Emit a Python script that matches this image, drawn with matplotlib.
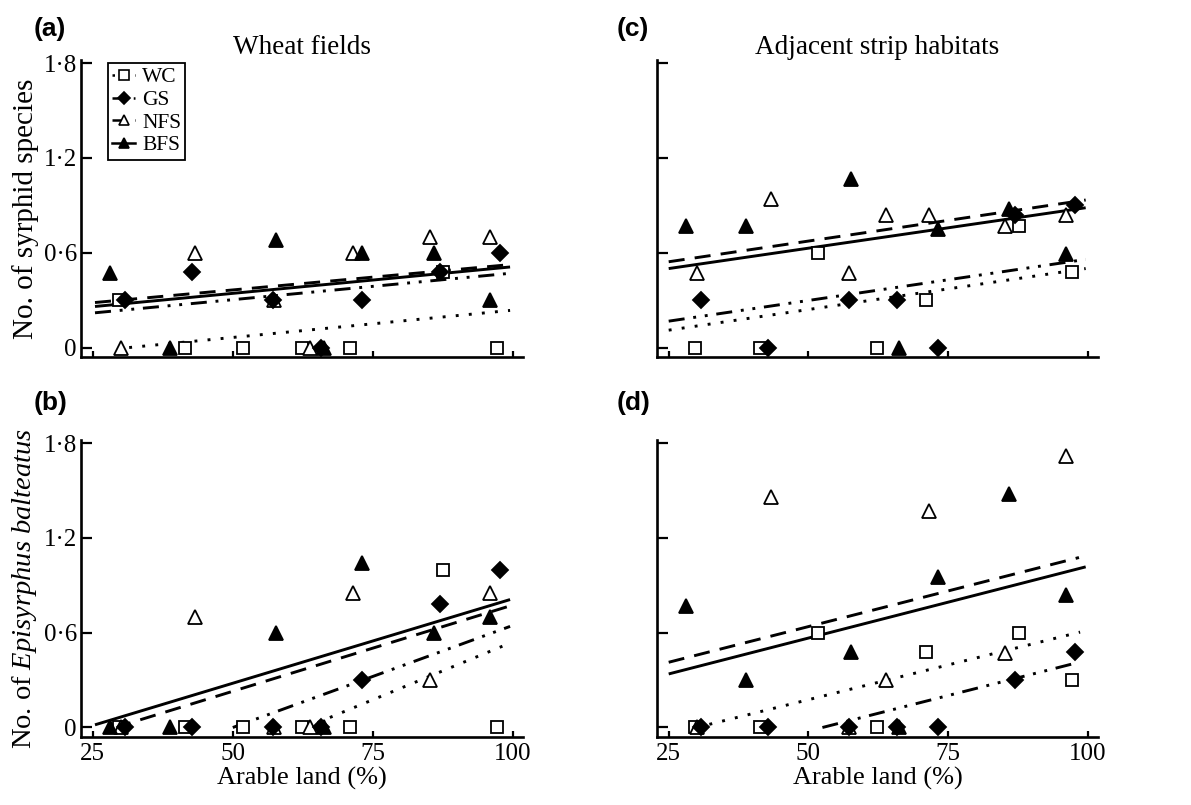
import matplotlib
matplotlib.use("Agg")
import matplotlib.pyplot as plt
from matplotlib.lines import Line2D

plt.rcParams["font.family"] = ["Liberation Serif", "DejaVu Serif"]
plt.rcParams["mathtext.fontset"] = "custom"
plt.rcParams["mathtext.rm"] = "Liberation Serif"
plt.rcParams["mathtext.it"] = "Liberation Serif:italic"

# arable land (%) around the sites of each habitat type
wc_x = [29.7, 41.4, 51.8, 62.3, 71.0, 87.6, 97.1]
gs_x = [30.8, 42.7, 57.2, 65.8, 73.1, 87.0, 97.7]
nfs_x = [30.1, 43.3, 57.3, 63.8, 71.5, 85.2, 96.0]
bfs_x = [28.1, 38.8, 57.7, 66.2, 73.1, 85.9, 96.0]

# (a) wheat fields, no. of syrphid species
a_wc = [0.3, 0, 0, 0, 0, 0.48, 0]
a_gs = [0.3, 0.48, 0.3, 0, 0.3, 0.48, 0.6]
a_nfs = [0, 0.6, 0.3, 0, 0.6, 0.7, 0.7]
a_bfs = [0.47, 0, 0.68, 0, 0.6, 0.6, 0.3]

# (b) wheat fields, no. of Episyrphus balteatus
b_wc = [0, 0, 0, 0, 0, 1.0, 0]
b_gs = [0, 0, 0, 0, 0.3, 0.78, 1.0]
b_nfs = [0, 0.7, 0, 0, 0.85, 0.3, 0.85]
b_bfs = [0, 0, 0.6, 0, 1.04, 0.6, 0.7]

# (c) adjacent strips, no. of syrphid species
c_wc = [0, 0, 0.6, 0, 0.3, 0.77, 0.48]
c_gs = [0.3, 0, 0.3, 0.3, 0, 0.84, 0.9]
c_nfs = [0.47, 0.94, 0.47, 0.84, 0.84, 0.77, 0.84]
c_bfs = [0.77, 0.77, 1.07, 0, 0.75, 0.88, 0.59]

# (d) adjacent strips, no. of Episyrphus balteatus
d_wc = [0, 0, 0.6, 0, 0.48, 0.6, 0.3]
d_gs = [0, 0, 0, 0, 0, 0.3, 0.48]
d_nfs = [0, 1.46, 0, 0.3, 1.37, 0.47, 1.72]
d_bfs = [0.77, 0.3, 0.48, 0, 0.95, 1.48, 0.84]

# fitted lines: (x start, y start, x end, y end)
a_fit = {"WC": (31.5, 0, 99.5, 0.235), "GS": (25.4, 0.22, 99.5, 0.47),
         "NFS": (25.4, 0.285, 99.5, 0.525), "BFS": (25.4, 0.26, 99.5, 0.51)}
b_fit = {"WC": (63.0, 0, 98.5, 0.52), "GS": (50.0, 0, 99.5, 0.64),
         "NFS": (29.0, 0, 99.5, 0.77), "BFS": (25.4, 0.017, 99.5, 0.81)}
c_fit = {"WC": (25.0, 0.11, 99.6, 0.5), "GS": (25.0, 0.167, 99.6, 0.558),
         "NFS": (25.0, 0.543, 99.6, 0.934), "BFS": (25.0, 0.5, 99.6, 0.885)}
d_fit = {"WC": (30.0, 0, 98.6, 0.604), "GS": (52.5, 0, 98.4, 0.413),
         "NFS": (25.0, 0.413, 98.4, 1.076), "BFS": (25.0, 0.339, 99.6, 1.017)}

habitats = ["WC", "GS", "NFS", "BFS"]
site_x = {"WC": wc_x, "GS": gs_x, "NFS": nfs_x, "BFS": bfs_x}

styles = {
    "WC": dict(marker="s", ms=9, mfc="white", ls=(0, (1, 3.5))),
    "GS": dict(marker="D", ms=8.5, mfc="black", ls=(0, (5.5, 3, 1, 3, 1, 3))),
    "NFS": dict(marker="^", ms=10.5, mfc="white", ls=(0, (5.5, 3.5))),
    "BFS": dict(marker="^", ms=10.5, mfc="black", ls="-"),
}

panels = [
    ("(a)", [0.0680, 0.5565, 0.3711, 0.3689], [a_wc, a_gs, a_nfs, a_bfs], a_fit),
    ("(b)", [0.0680, 0.0845, 0.3711, 0.3689], [b_wc, b_gs, b_nfs, b_bfs], b_fit),
    ("(c)", [0.5516, 0.5565, 0.3703, 0.3689], [c_wc, c_gs, c_nfs, c_bfs], c_fit),
    ("(d)", [0.5516, 0.0845, 0.3703, 0.3689], [d_wc, d_gs, d_nfs, d_bfs], d_fit),
]

fig = plt.figure(figsize=(11.91, 8.05), dpi=100)
axes = {}
for tag, rect, values, fits in panels:
    ax = fig.add_axes(rect)
    axes[tag] = ax
    for hab in habitats:
        x0, y0, x1, y1 = fits[hab]
        ax.plot([x0, x1], [y0, y1], color="black", lw=2.1, ls=styles[hab]["ls"],
                solid_capstyle="butt", dash_capstyle="butt", zorder=2)
    # squares and open triangles first, filled marks on top
    order = [("WC", values[0]), ("NFS", values[2]), ("BFS", values[3]), ("GS", values[1])]
    for hab, yv in order:
        st = styles[hab]
        ax.plot(site_x[hab], yv, ls="none", marker=st["marker"], ms=st["ms"],
                mfc=st["mfc"], mec="black", mew=1.3, zorder=3)

    ax.set_xlim(22.9, 101.8)
    ax.set_ylim(-0.06, 1.82)
    for side in ["top", "right"]:
        ax.spines[side].set_visible(False)
    for side in ["left", "bottom"]:
        ax.spines[side].set_linewidth(1.9)
    ax.set_yticks([0, 0.6, 1.2, 1.8])
    ax.set_xticks([25, 50, 75, 100])
    ax.tick_params(axis="y", direction="in", length=8, width=1.6, pad=3, labelsize=18)
    ax.tick_params(axis="x", direction="in", length=4.5, width=1.6, pad=4, labelsize=18)
    if tag in ("(a)", "(b)"):
        ax.set_yticklabels(["0", "0·6", "1·2", "1·8"])
    else:
        ax.set_yticklabels([])
    if tag in ("(b)", "(d)"):
        ax.set_xticklabels(["25", "50", "75", "100"])
        ax.set_xlabel("Arable land (%)", fontsize=19, labelpad=2)
    else:
        ax.set_xticklabels([])

axes["(a)"].set_ylabel("No. of syrphid species", fontsize=21, labelpad=3)
axes["(b)"].set_ylabel(r"No. of $\mathit{Episyrphus\ balteatus}$", fontsize=20.5, labelpad=3)
axes["(a)"].set_title("Wheat fields", fontsize=19.5, pad=4)
axes["(c)"].set_title("Adjacent strip habitats", fontsize=19.5, pad=4)

label_pos = {"(a)": (0.028, 0.964), "(b)": (0.028, 0.499), "(c)": (0.518, 0.964), "(d)": (0.518, 0.499)}
for tag, (lx, ly) in label_pos.items():
    fig.text(lx, ly, tag, fontsize=19, fontweight="bold", family="Liberation Sans",
             va="center", ha="left")

handles = [Line2D([], [], color="black", lw=1.8, ls=styles[h]["ls"], marker=styles[h]["marker"],
                  ms=styles[h]["ms"] * 0.75, mfc=styles[h]["mfc"], mec="black", mew=1.2)
           for h in habitats]
leg = axes["(a)"].legend(handles, habitats, loc="upper left", bbox_to_anchor=(0.06, 0.99),
                         fontsize=15.5, handlelength=1.1, handletextpad=0.3, labelspacing=0.12,
                         borderpad=0.2, borderaxespad=0.0, fancybox=False, framealpha=1)
leg.get_frame().set_edgecolor("black")
leg.get_frame().set_linewidth(1.3)

fig.savefig("out.png", dpi=100)
